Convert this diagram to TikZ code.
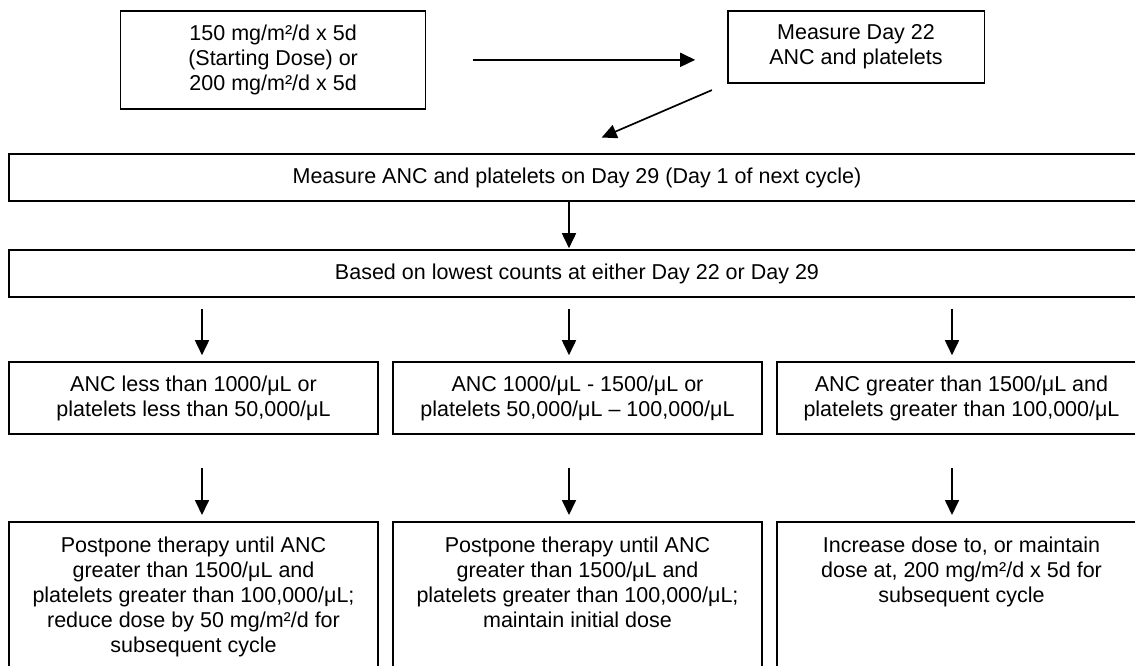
\documentclass[tikz,border=0pt]{standalone}
\usepackage{fontspec}
\setmainfont{Liberation Sans}
\usetikzlibrary{arrows.meta}
\begin{document}
\begin{tikzpicture}[x=1pt,y=-1pt,
  box/.style={draw, line width=1.6pt, inner sep=0pt, align=center, font=\fontsize{21.5}{25}\selectfont},
  txt/.style={inner sep=0pt, align=center, font=\fontsize{21.5}{25}\selectfont},
  arr/.style={line width=1.7pt, -{Triangle[length=15pt,width=14pt]}}]
\useasboundingbox[fill=white] (0,0) rectangle (1135,665);
\clip (0,0) rectangle (1135,665);
% top row
\node[box, minimum width=305pt, minimum height=98.3pt] (b1) at (273.1,59.85)
  {150 mg/m²/d x 5d\\(Starting Dose) or\\200 mg/m²/d x 5d};
\node[box, minimum width=256.6pt, minimum height=72pt] (b2) at (856,46.7)
  {Measure Day 22\\ANC and platelets};
% wide boxes
\node[box, minimum width=1136pt, minimum height=47pt] (b3) at (577,177.5)
  {Measure ANC and platelets on Day 29 (Day 1 of next cycle)};
\node[box, minimum width=1136pt, minimum height=47pt] (b4) at (577,273.5)
  {Based on lowest counts at either Day 22 or Day 29};
% condition boxes
\node[box, minimum width=369pt, minimum height=72pt] (c1) at (193.5,398)
  {ANC less than 1000/μL or\\platelets less than 50,000/μL};
\node[box, minimum width=369pt, minimum height=72pt] (c2) at (577.5,398)
  {ANC 1000/μL - 1500/μL or\\platelets 50,000/μL – 100,000/μL};
\node[box, minimum width=369pt, minimum height=72pt] (c3) at (961.5,398)
  {ANC greater than 1500/μL and\\platelets greater than 100,000/μL};
% action boxes
\node[box, anchor=north, minimum width=369pt, minimum height=200pt] (d1) at (193.5,521) {};
\node[box, anchor=north, minimum width=369pt, minimum height=200pt] (d2) at (577.5,521) {};
\node[box, anchor=north, minimum width=369pt, minimum height=200pt] (d3) at (961.5,521) {};
\node[txt, anchor=north] (t1) at ([yshift=-16pt]d1.north)
  {Postpone therapy until ANC\\greater than 1500/μL and\\platelets greater than 100,000/μL;\\reduce dose by 50 mg/m²/d for\\subsequent cycle};
\node[txt, anchor=north] (t2) at ([yshift=-16pt]d2.north)
  {Postpone therapy until ANC\\greater than 1500/μL and\\platelets greater than 100,000/μL;\\maintain initial dose};
\node[txt, anchor=north] (t3) at ([yshift=-16pt]d3.north)
  {Increase dose to, or maintain\\dose at, 200 mg/m²/d x 5d for\\subsequent cycle};
% connectors
\draw[arr, shorten <=46.3pt, shorten >=31.7pt] (b1.east) -- (b1.east -| b2.west);
\draw[arr] ([xshift=-15pt,yshift=-6.6pt]b2.south west) -- ([xshift=24.7pt,yshift=15.7pt]b3.north);
\draw[arr, shorten >=1pt] ([xshift=-8pt]b3.south) -- ([xshift=-8pt]b4.north);
\draw[arr, shorten <=11pt, shorten >=6pt] ([xshift=-375pt]b4.south) -- ([xshift=8.5pt]c1.north);
\draw[arr, shorten <=11pt, shorten >=6pt] ([xshift=-8pt]b4.south) -- ([xshift=-8.5pt]c2.north);
\draw[arr, shorten <=11pt, shorten >=6pt] ([xshift=375pt]b4.south) -- ([xshift=-9.5pt]c3.north);
\draw[arr, shorten <=33pt, shorten >=6pt] ([xshift=8.5pt]c1.south) -- ([xshift=8.5pt]d1.north);
\draw[arr, shorten <=33pt, shorten >=6pt] ([xshift=-8.5pt]c2.south) -- ([xshift=-8.5pt]d2.north);
\draw[arr, shorten <=33pt, shorten >=6pt] ([xshift=-9.5pt]c3.south) -- ([xshift=-9.5pt]d3.north);
\end{tikzpicture}
\end{document}
